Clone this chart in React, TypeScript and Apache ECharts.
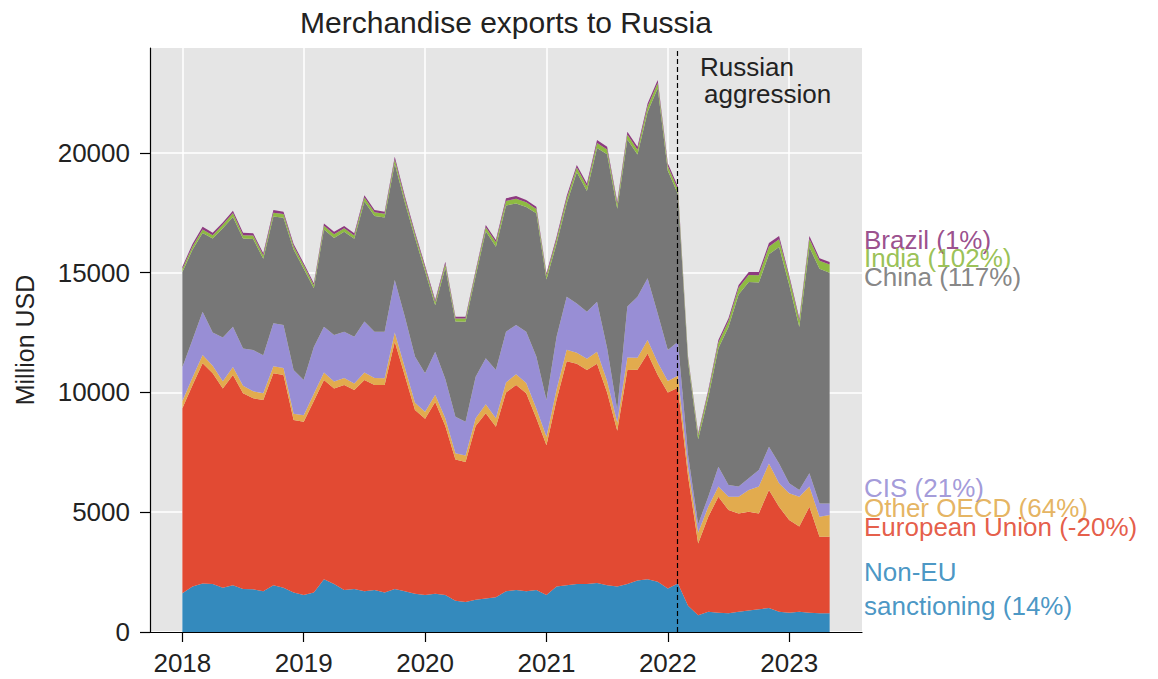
import React, { useEffect, useRef } from "react";
import * as echarts from "echarts";

// Monthly data, Jan 2018 .. May 2023 (million USD)
const START_YEAR = 2018;
const EVENT_MONTH_INDEX = 49; // Feb 2022
const yearTicks = [2018, 2019, 2020, 2021, 2022, 2023];
const valueTicks = [0, 5000, 10000, 15000, 20000];

const nonEUSanctioning = [
  1620, 1900, 2030, 2000, 1850, 1950, 1800, 1780, 1700, 1950, 1850, 1650,
  1550, 1650, 2200, 2000, 1750, 1800, 1700, 1750, 1650, 1800, 1700, 1600,
  1550, 1600, 1550, 1300, 1250, 1350, 1400, 1450, 1700, 1750, 1700, 1750,
  1550, 1900, 1950, 2000, 2000, 2050, 1950, 1900, 2000, 2150, 2200, 2100, 1820, 2030,
  1100, 700, 850, 800, 780, 850, 900, 950, 1000, 850, 800, 850, 800, 780, 780,
];
const europeanUnion = [
  7720, 8400, 9190, 8800, 8320, 8780, 8170, 7980, 7990, 8850, 8880, 7200,
  7230, 8000, 8320, 8170, 8560, 8300, 8820, 8560, 8660, 10320, 9000, 7670,
  7350, 8000, 7050, 5900, 5850, 7250, 7730, 7120, 8300, 8560, 8270, 7180,
  6250, 7800, 9350, 9200, 8940, 9150, 8050, 6500, 8940, 8800, 9430, 8630, 8180, 8170,
  5400, 3000, 3960, 4850, 4310, 4100, 4120, 4000, 4930, 4380, 3880, 3550, 4430, 3200, 3200,
];
const otherOECD = [
  300, 330, 350, 320, 300, 330, 310, 290, 280, 300, 290, 260,
  270, 300, 320, 290, 300, 280, 320, 300, 290, 380, 340, 300,
  300, 310, 320, 260, 270, 330, 380, 360, 420, 450, 430, 400,
  350, 420, 480, 460, 470, 500, 480, 350, 520, 500, 560, 520, 480, 500,
  400, 450, 420, 420, 560, 700, 910, 1120, 1110, 980, 1110, 1250, 840, 830, 900,
];
const cis = [
  1410, 1570, 1800, 1380, 1830, 1690, 1560, 1720, 1590, 1790, 1800, 1830,
  1470, 1950, 1910, 1940, 1930, 1950, 2120, 1930, 1940, 2200, 2120, 1930,
  1600, 1790, 1640, 1530, 1410, 1730, 1920, 2010, 2120, 2060, 2140, 2170,
  1540, 2210, 2220, 2060, 1960, 2090, 1370, 520, 2130, 2550, 2580, 2050, 1290, 1420,
  500, 350, 420, 830, 490, 420, 490, 690, 700, 830, 420, 280, 560, 560, 490,
];
const china = [
  3980, 3760, 3290, 3930, 4560, 4580, 4590, 4640, 4020, 4460, 4480, 5030,
  4650, 2450, 4060, 4050, 4170, 4090, 5010, 4830, 4770, 4850, 4770, 4960,
  4260, 1940, 4650, 3970, 4170, 4200, 5300, 5150, 5270, 5070, 5210, 5980,
  5030, 3890, 3890, 5480, 5040, 6420, 8100, 8400, 6970, 5940, 6940, 9400, 7490, 6170,
  3890, 3550, 4140, 4950, 6590, 8020, 8190, 7830, 8030, 9040, 8290, 6800, 9430, 9800, 9630,
];
const india = [
  130, 140, 150, 140, 150, 160, 140, 150, 140, 160, 150, 140,
  140, 130, 150, 160, 150, 140, 170, 160, 150, 180, 170, 150,
  150, 140, 160, 130, 140, 160, 170, 180, 190, 200, 190, 180,
  170, 180, 200, 190, 200, 210, 200, 190, 210, 200, 230, 220, 200, 190,
  150, 180, 220, 240, 260, 280, 300, 310, 330, 320, 300, 280, 350, 330, 340,
];
const brazil = [
  90, 100, 110, 100, 90, 100, 100, 90, 90, 110, 100, 90,
  90, 80, 100, 100, 90, 90, 100, 90, 90, 110, 100, 90,
  90, 80, 90, 70, 70, 80, 90, 100, 110, 110, 100, 100,
  90, 100, 110, 110, 120, 120, 110, 100, 120, 120, 130, 130, 110, 110,
  60, 70, 90, 100, 110, 120, 120, 130, 140, 130, 100, 90, 120, 110, 110,
];

const layers = [
  { name: "Non-EU sanctioning", values: nonEUSanctioning, color: "#348ABD" },
  { name: "European Union", values: europeanUnion, color: "#E24A33" },
  { name: "Other OECD", values: otherOECD, color: "#E2AB4E" },
  { name: "CIS", values: cis, color: "#988ED5" },
  { name: "China", values: china, color: "#777777" },
  { name: "India", values: india, color: "#8EBA42" },
  { name: "Brazil", values: brazil, color: "#8E3A80" },
];

const endLabels = [
  { text: "Brazil (1%)", color: "#8E3A80", y: 240 },
  { text: "India (102%)", color: "#8EBA42", y: 258 },
  { text: "China (117%)", color: "#777777", y: 277 },
  { text: "CIS (21%)", color: "#988ED5", y: 488 },
  { text: "Other OECD (64%)", color: "#E2AB4E", y: 508 },
  { text: "European Union (-20%)", color: "#E24A33", y: 527 },
  { text: "Non-EU", color: "#348ABD", y: 572 },
  { text: "sanctioning (14%)", color: "#348ABD", y: 606 },
];

const FONT = '"Liberation Sans", Arial, sans-serif';

export default function App() {
  const ref = useRef<HTMLDivElement>(null);
  useEffect(() => {
    if (!ref.current) return;
    const chart = echarts.init(ref.current, undefined, { renderer: "svg" });
    const xOf = (i: number) => START_YEAR + i / 12;
    const eventX = xOf(EVENT_MONTH_INDEX);

    // data as [value, x] with encode so that the stacked dimension is the y value
    const series: any[] = layers.map((l, idx) => ({
      name: l.name,
      type: "line",
      stack: "total",
      data: l.values.map((v, i) => [v, xOf(i)]),
      encode: { x: 1, y: 0 },
      symbol: "none",
      showSymbol: false,
      silent: true,
      lineStyle: { width: 0, color: l.color },
      itemStyle: { color: l.color },
      areaStyle: { color: l.color, opacity: 1 },
      ...(idx === layers.length - 1
        ? {
            markLine: {
              silent: true,
              symbol: "none",
              label: { show: false },
              lineStyle: { color: "#000", type: [5, 3], width: 1.2 },
              data: [{ xAxis: eventX }],
              z: 10,
            },
          }
        : {}),
    }));

    const graphics: any[] = [
      {
        type: "text",
        x: 506,
        y: 22,
        style: {
          text: "Merchandise exports to Russia",
          fontSize: 30,
          fontFamily: FONT,
          fill: "#222",
          align: "center",
          verticalAlign: "middle",
        },
      },
      {
        type: "text",
        x: 25,
        y: 340,
        rotation: Math.PI / 2,
        style: {
          text: "Million USD",
          fontSize: 25,
          fontFamily: FONT,
          fill: "#222",
          align: "center",
          verticalAlign: "middle",
        },
      },
      {
        type: "text",
        x: 700,
        y: 67,
        z: 20,
        style: { text: "Russian", fontSize: 26, fontFamily: FONT, fill: "#222", align: "left", verticalAlign: "middle" },
      },
      {
        type: "text",
        x: 704,
        y: 94,
        z: 20,
        style: { text: "aggression", fontSize: 26, fontFamily: FONT, fill: "#222", align: "left", verticalAlign: "middle" },
      },
      ...endLabels.map((l) => ({
        type: "text",
        x: 864,
        y: l.y,
        z: 20,
        style: { text: l.text, fontSize: 26, fontFamily: FONT, fill: l.color, opacity: 0.9, align: "left", verticalAlign: "middle" },
      })),
    ];

    chart.setOption({
      animation: false,
      backgroundColor: "#ffffff",
      grid: {
        left: 150,
        right: 296,
        top: 48,
        bottom: 47,
        show: true,
        backgroundColor: "#E5E5E5",
        borderWidth: 0,
        containLabel: false,
        outerBoundsMode: "none",
      },
      xAxis: {
        type: "value",
        min: 2017.7333,
        max: 2023.6,
        axisLine: { show: true, onZero: false, lineStyle: { color: "#000", width: 1.2 } },
        axisTick: { show: true, inside: false, length: 10, customValues: yearTicks, lineStyle: { color: "#000", width: 1.2 } },
        axisLabel: {
          customValues: yearTicks,
          formatter: (v: number) => String(Math.round(v)),
          fontSize: 26,
          fontFamily: FONT,
          color: "#222",
          margin: 18,
        },
        splitLine: { show: true, lineStyle: { color: "#ffffff", width: 1.5 } },
      },
      yAxis: {
        type: "value",
        min: 0,
        max: 24384,
        axisLine: { show: true, onZero: false, lineStyle: { color: "#000", width: 1.2 } },
        axisTick: { show: true, inside: false, length: 10, customValues: valueTicks, lineStyle: { color: "#000", width: 1.2 } },
        axisLabel: {
          customValues: valueTicks,
          formatter: (v: number) => String(Math.round(v)),
          fontSize: 26,
          fontFamily: FONT,
          color: "#222",
          margin: 20,
        },
        splitLine: { show: true, lineStyle: { color: "#ffffff", width: 1.5 } },
      },
      series,
      graphic: graphics,
    });
    return () => chart.dispose();
  }, []);
  return <div ref={ref} style={{ position: "fixed", left: 0, top: 0, width: 1158, height: 679 }} />;
}
